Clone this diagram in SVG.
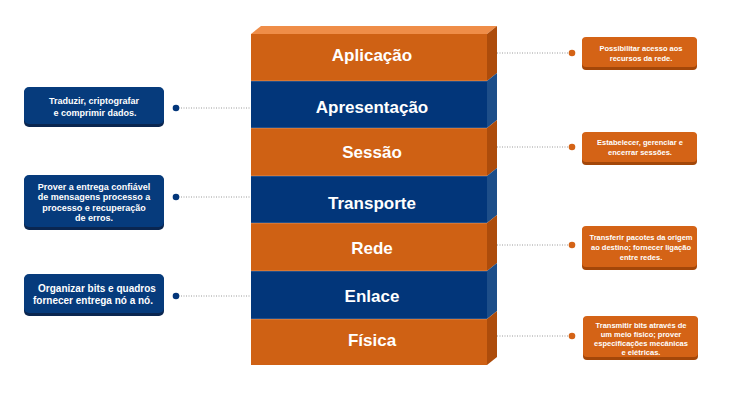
<svg xmlns="http://www.w3.org/2000/svg" width="750" height="402" viewBox="0 0 750 402">
<style>
.lbl{font-family:"Liberation Sans",Arial,sans-serif;font-weight:bold;fill:#fff;text-anchor:middle;font-size:17px}
.lt{font-family:"Liberation Sans",Arial,sans-serif;font-weight:bold;fill:#fff;text-anchor:middle;font-size:9px}
.rt{font-family:"Liberation Sans",Arial,sans-serif;font-weight:bold;fill:#fff;text-anchor:middle;font-size:7.5px}
.of{fill:#CF6114}.os{fill:#AD4C0B}
.bf{fill:#02367A}.bs{fill:#1D4E89}
.ob{fill:#D46316}.obs{fill:#A34709}
.bb{fill:#063B7C}.bbs{fill:#0A2650}
.con{stroke:#9A9A9A;stroke-width:1;stroke-dasharray:1 1.5;fill:none}
.dotb{fill:#03367A}.doto{fill:#D46316}
.sep{stroke:#ffffff;stroke-opacity:0.35;stroke-width:0.8}
</style>
<rect width="750" height="402" fill="#fff"/>
<g id="stack">
<polygon points="251,34 261,26 497,26 487,34" fill="#EF8D48"/>
<g id="l-aplicacao"><rect class="of" x="251" y="34" width="236" height="47"/><polygon class="os" points="487,34 497,26 497,73 487,81"/><text class="lbl" x="372" y="61">Aplicação</text></g>
<g id="l-apresentacao"><rect class="bf" x="251" y="81" width="236" height="47"/><polygon class="bs" points="487,81 497,73 497,120 487,128"/><text class="lbl" x="372" y="113">Apresentação</text></g>
<g id="l-sessao"><rect class="of" x="251" y="128" width="236" height="48"/><polygon class="os" points="487,128 497,120 497,168 487,176"/><text class="lbl" x="372" y="158">Sessão</text></g>
<g id="l-transporte"><rect class="bf" x="251" y="176" width="236" height="47"/><polygon class="bs" points="487,176 497,168 497,215 487,223"/><text class="lbl" x="372" y="209">Transporte</text></g>
<g id="l-rede"><rect class="of" x="251" y="223" width="236" height="48"/><polygon class="os" points="487,223 497,215 497,263 487,271"/><text class="lbl" x="372" y="254">Rede</text></g>
<g id="l-enlace"><rect class="bf" x="251" y="271" width="236" height="48"/><polygon class="bs" points="487,271 497,263 497,311 487,319"/><text class="lbl" x="372" y="302">Enlace</text></g>
<g id="l-fisica"><rect class="of" x="251" y="319" width="236" height="46"/><polygon class="os" points="487,319 497,311 497,357 487,365"/><text class="lbl" x="372" y="346">Física</text></g>
<g class="sep"><line x1="251" y1="81" x2="487" y2="81"/><line x1="251" y1="128" x2="487" y2="128"/><line x1="251" y1="176" x2="487" y2="176"/><line x1="251" y1="223" x2="487" y2="223"/><line x1="251" y1="271" x2="487" y2="271"/><line x1="251" y1="319" x2="487" y2="319"/></g>
</g>
<g id="connectors">
<line class="con" x1="176" y1="108" x2="251" y2="108"/>
<line class="con" x1="176" y1="197" x2="251" y2="197"/>
<line class="con" x1="176" y1="296" x2="251" y2="296"/>
<line class="con" x1="497" y1="53" x2="572" y2="53"/>
<line class="con" x1="497" y1="147" x2="572" y2="147"/>
<line class="con" x1="497" y1="245" x2="572" y2="245"/>
<line class="con" x1="497" y1="336" x2="572" y2="336"/>
<circle class="dotb" cx="176" cy="108" r="3.3"/>
<circle class="dotb" cx="176" cy="197" r="3.3"/>
<circle class="dotb" cx="176" cy="296" r="3.3"/>
<circle class="doto" cx="572" cy="53" r="3.3"/>
<circle class="doto" cx="572" cy="147" r="3.3"/>
<circle class="doto" cx="572" cy="245" r="3.3"/>
<circle class="doto" cx="572" cy="336" r="3.3"/>
</g>
<g id="n-traduzir">
<rect class="bbs" x="24" y="88" width="140" height="39" rx="5"/>
<rect class="bb" x="24" y="87" width="140" height="37" rx="5"/>
<text class="lt" x="94" y="104">Traduzir, criptografar</text>
<text class="lt" x="95" y="116">e comprimir dados.</text>
</g>
<g id="n-prover">
<rect class="bbs" x="24" y="176" width="140" height="54" rx="5"/>
<rect class="bb" x="24" y="175" width="140" height="52" rx="5"/>
<text class="lt" x="94" y="189.5">Prover a entrega confiável</text>
<text class="lt" x="94" y="200">de mensagens processo a</text>
<text class="lt" x="94" y="210.5">processo e recuperação</text>
<text class="lt" x="94" y="221">de erros.</text>
</g>
<g id="n-organizar">
<rect class="bbs" x="24" y="275" width="140" height="41" rx="5"/>
<rect class="bb" x="24" y="274" width="140" height="39" rx="5"/>
<text class="lt" x="97" y="292" style="font-size:10px">Organizar bits e quadros</text>
<text class="lt" x="93" y="303.5" style="font-size:10px">fornecer entrega nó a nó.</text>
</g>
<g id="n-possibilitar">
<rect class="obs" x="582" y="38" width="115" height="32" rx="4"/>
<rect class="ob" x="582" y="37" width="115" height="30" rx="4"/>
<text class="rt" x="641" y="51">Possibilitar acesso aos</text>
<text class="rt" x="641" y="60.5">recursos da rede.</text>
</g>
<g id="n-estabelecer">
<rect class="obs" x="582" y="133" width="115" height="32" rx="4"/>
<rect class="ob" x="582" y="132" width="115" height="30" rx="4"/>
<text class="rt" x="640" y="145">Estabelecer, gerenciar e</text>
<text class="rt" x="640" y="155">encerrar sessões.</text>
</g>
<g id="n-transferir">
<rect class="obs" x="582" y="227" width="115" height="43" rx="4"/>
<rect class="ob" x="582" y="226" width="115" height="41" rx="4"/>
<text class="rt" x="641" y="240">Transferir pacotes da origem</text>
<text class="rt" x="641" y="250">ao destino; fornecer ligação</text>
<text class="rt" x="641" y="259.5">entre redes.</text>
</g>
<g id="n-transmitir">
<rect class="obs" x="583" y="317" width="115" height="43" rx="4"/>
<rect class="ob" x="583" y="316" width="115" height="41" rx="4"/>
<text class="rt" x="641" y="327.5">Transmitir bits através de</text>
<text class="rt" x="641" y="336.5">um meio físico; prover</text>
<text class="rt" x="641" y="345.5">especificações mecânicas</text>
<text class="rt" x="641" y="354.5">e elétricas.</text>
</g>
</svg>
